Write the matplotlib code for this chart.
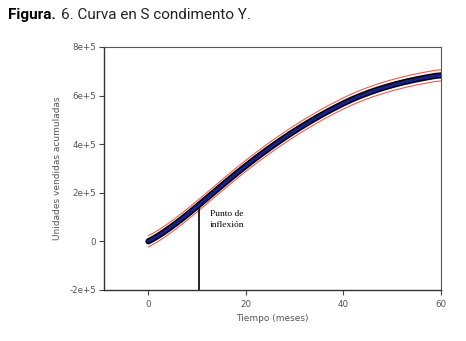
import numpy as np
import matplotlib
matplotlib.use("Agg")
import matplotlib.pyplot as plt

# cumulative units (x 1e5), one value per month
months = list(range(0, 61))
units = [0.0, 0.11, 0.23, 0.36, 0.50, 0.645, 0.795, 0.95, 1.11, 1.275, 1.44,
         1.61, 1.78, 1.95, 2.12, 2.29, 2.458, 2.624, 2.788, 2.95, 3.11,
         3.267, 3.421, 3.572, 3.72, 3.865, 4.007, 4.146, 4.282, 4.415, 4.545,
         4.672, 4.796, 4.917, 5.035, 5.15, 5.262, 5.371, 5.477, 5.58, 5.68,
         5.775, 5.865, 5.95, 6.03, 6.106, 6.178, 6.246, 6.31, 6.37, 6.427,
         6.481, 6.532, 6.58, 6.625, 6.667, 6.707, 6.745, 6.781, 6.815, 6.83]
band = 0.23  # half width of the red band (x 1e5)
t_inflex = 10.4

yticks = [-2e5, 0, 2e5, 4e5, 6e5, 8e5]
ytick_labels = ["-2e+5", "0", "2e+5", "4e+5", "6e+5", "8e+5"]
xticks = [0, 20, 40, 60]

t = np.array(months, dtype=float)
y = np.array(units) * 1e5

fig = plt.figure(figsize=(4.66, 3.41), dpi=100)
ax = fig.add_axes([0.2232, 0.1496, 0.7232, 0.7126])

ax.plot(t, y + band * 1e5, color="#f05a4a", lw=0.8)
ax.plot(t, y - band * 1e5, color="#f05a4a", lw=0.8)
ax.plot(t, y, "-", color="black", lw=4.4, solid_capstyle="round", zorder=3)
ax.plot(t, y, "-", color="#1a1f8c", lw=2.2, zorder=4)

y_inf = np.interp(t_inflex, t, y)
ax.plot([t_inflex, t_inflex], [-2e5, y_inf], color="black", lw=1.2, zorder=2)
ax.text(12.6, 1.3e5, "Punto de\ninflexión", family="Liberation Serif",
        fontsize=6.8, va="top", ha="left", linespacing=1.55)

ax.set_xlim(-9.1, 60)
ax.set_ylim(-2e5, 8e5)
ax.set_xticks(xticks)
ax.set_xticklabels([str(v) for v in xticks])
ax.set_yticks(yticks)
ax.set_yticklabels(ytick_labels)
ax.tick_params(axis="both", labelsize=6.3, labelcolor="#555555", color="#444444",
               length=3.5, width=0.8, direction="out")
ax.tick_params(axis="y", pad=2)
for s in ["left", "bottom"]:
    ax.spines[s].set_color("#333333")
    ax.spines[s].set_linewidth(1.0)
for s in ["top", "right"]:
    ax.spines[s].set_color("#555555")
    ax.spines[s].set_linewidth(0.8)

ax.set_xlabel("Tiempo (meses)", fontsize=6.5, color="#555555", labelpad=4)
ax.set_ylabel("Unidades vendidas acumuladas", fontsize=6.5, color="#555555")
ax.yaxis.set_label_coords(-0.125, 0.5)

# title: bold "Figura." followed by regular text
t1 = fig.text(0.017, 0.957, "Figura.", fontsize=11, weight="bold", va="center",
              family="Roboto")
fig.canvas.draw()
bb = t1.get_window_extent()
x2 = (bb.x1 + 5) / fig.bbox.width
fig.text(x2, 0.957, "6. Curva en S condimento Y.", fontsize=11, va="center",
         family="Roboto", color="#222222")

fig.savefig("out.png", dpi=100)
